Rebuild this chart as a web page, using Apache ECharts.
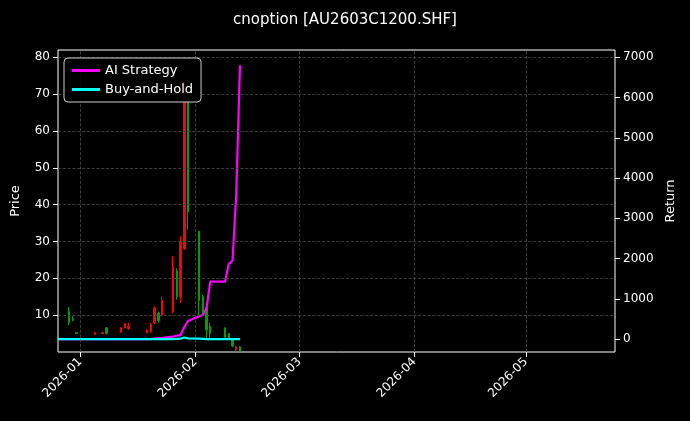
<!DOCTYPE html>
<html><head><meta charset="utf-8">
<script src="https://cdn.jsdelivr.net/npm/echarts@6/dist/echarts.min.js"></script>
<style>html,body{margin:0;background:#000}#c{width:690px;height:421px}</style></head>
<body><div id="c"></div>
<script>
// [date, open, close, low, high]
const candles = [
['2025-12-29',11,8,7.3,12.2],['2025-12-30',9,8.5,8.4,9.7],['2025-12-31',5.3,5.0,4.9,5.4],
['2026-01-05',4.8,5.3,4.7,5.4],['2026-01-07',5.0,5.3,4.9,5.4],['2026-01-08',6.6,5.0,4.8,6.6],
['2026-01-12',5.4,6.6,5.2,6.7],['2026-01-13',6.5,7.6,6.4,7.9],['2026-01-14',6.3,7.0,6.0,7.9],
['2026-01-19',5.2,6.0,5.1,6.1],['2026-01-20',5.5,7.5,5.2,7.9],['2026-01-21',8,12,7.6,12.4],
['2026-01-22',10.6,8.5,7.9,11],['2026-01-23',10,14,9.7,15.1],['2026-01-26',11,23,10.6,26],
['2026-01-27',22,15,14.2,22.7],['2026-01-28',15,30,13.3,31.4],['2026-01-29',28,70,27.8,74],
['2026-01-30',70,38,33.2,74],['2026-02-02',32.8,14,9.7,32.8],['2026-02-03',15,10.5,9.7,15.5],
['2026-02-04',12,6,3.4,12.4],['2026-02-05',7,5,3.4,8],['2026-02-09',6.6,4,3.4,6.6],
['2026-02-10',5,3.5,3.4,5.2],['2026-02-11',3.6,1.6,1.4,3.8],['2026-02-12',0.6,1.4,0.2,1.6],
['2026-02-13',1.4,0.3,0.2,1.6]];
const retDates = ['2025-12-26','2026-01-20','2026-01-21','2026-01-22','2026-01-23','2026-01-26','2026-01-27','2026-01-28','2026-01-29','2026-01-30','2026-02-02','2026-02-03','2026-02-04','2026-02-05','2026-02-06','2026-02-09','2026-02-10','2026-02-11','2026-02-12','2026-02-13'];
const aiStrategy = [0,0,10,20,30,60,90,100,300,450,570,600,770,1430,1430,1430,1870,1950,3600,6800];
const buyHold   = [0,0,0,0,0,0,5,10,40,20,10,5,0,0,0,0,0,0,0,0];
const priceTicks = [10,20,30,40,50,60,70,80];
const returnTicks = [0,1000,2000,3000,4000,5000,6000,7000];
const monthTicks = ['2026-01-01','2026-02-01','2026-03-01','2026-04-01','2026-05-01'];

const ts = d => new Date(d+'T00:00:00Z').getTime();
const pad = n => String(n).padStart(2,'0');
const gridLine = {type:'dashed', color:'#4a4a4a', width:0.8};
const chart = echarts.init(document.getElementById('c'));
chart.setOption({
  backgroundColor:'#000',
  animation:false,
  title:{text:'cnoption [AU2603C1200.SHF]', left:'center', top:8,
    textStyle:{color:'#fff', fontSize:15, fontWeight:'normal', fontFamily:'DejaVu Sans'}},
  grid:{left:58, right:75, top:50, bottom:69, show:true, borderColor:'#fff', borderWidth:1},
  legend:{orient:'vertical', left:64, top:58, padding:[6,8], itemGap:6, z:20, zlevel:1,
    backgroundColor:'rgba(0,0,0,0.9)', borderColor:'#ccc', borderWidth:1, borderRadius:4,
    itemWidth:28, itemHeight:3, icon:'rect',
    textStyle:{color:'#fff', fontSize:13, fontFamily:'DejaVu Sans'},
    data:['AI Strategy','Buy-and-Hold']},
  xAxis:{type:'value', min:ts('2025-12-26'), max:ts('2026-05-25'),
    axisLine:{show:false}, splitLine:{show:false},
    axisTick:{customValues:monthTicks.map(ts), lineStyle:{color:'#fff'}},
    axisLabel:{customValues:monthTicks.map(ts), rotate:45, color:'#fff', fontSize:12, fontFamily:'DejaVu Sans',
      formatter:v=>{const d=new Date(v);return d.getUTCFullYear()+'-'+pad(d.getUTCMonth()+1);}}},
  yAxis:[
    {type:'value', min:0, max:82, name:'Price', nameLocation:'middle', nameGap:36,
     nameTextStyle:{color:'#fff', fontSize:13, fontFamily:'DejaVu Sans'},
     axisLine:{show:false},
     axisTick:{customValues:priceTicks, lineStyle:{color:'#fff'}},
     axisLabel:{customValues:priceTicks, color:'#fff', fontSize:12, fontFamily:'DejaVu Sans'},
     splitLine:{show:false}},
    {type:'value', min:-320, max:7180, name:'Return', nameLocation:'middle', nameGap:48, nameRotate:90,
     nameTextStyle:{color:'#fff', fontSize:13, fontFamily:'DejaVu Sans'},
     axisLine:{show:false}, splitLine:{show:false},
     axisTick:{customValues:returnTicks, lineStyle:{color:'#fff'}},
     axisLabel:{customValues:returnTicks, color:'#fff', fontSize:12, fontFamily:'DejaVu Sans', formatter:v=>String(v)}}
  ],
  series:[
    {type:'candlestick', yAxisIndex:0, barWidth:2,
     data:candles.map(c=>[ts(c[0]),c[1],c[2],c[3],c[4]]),
     itemStyle:{color:'#ff0000', color0:'#00a000', borderColor:'#ff0000', borderColor0:'#00a000', borderWidth:1},
     markLine:{silent:true, symbol:'none', label:{show:false}, lineStyle:gridLine,
       data:[...monthTicks.map(d=>({xAxis:ts(d)})), ...priceTicks.map(v=>({yAxis:v}))]}},
    {name:'AI Strategy', type:'line', yAxisIndex:1, showSymbol:false,
     data:retDates.map((d,i)=>[ts(d),aiStrategy[i]]), lineStyle:{color:'#ff00ff', width:2.2}, itemStyle:{color:'#ff00ff'}},
    {name:'Buy-and-Hold', type:'line', yAxisIndex:1, showSymbol:false,
     data:retDates.map((d,i)=>[ts(d),buyHold[i]]), lineStyle:{color:'#00ffff', width:2.2}, itemStyle:{color:'#00ffff'}}
  ]
});
</script></body></html>
